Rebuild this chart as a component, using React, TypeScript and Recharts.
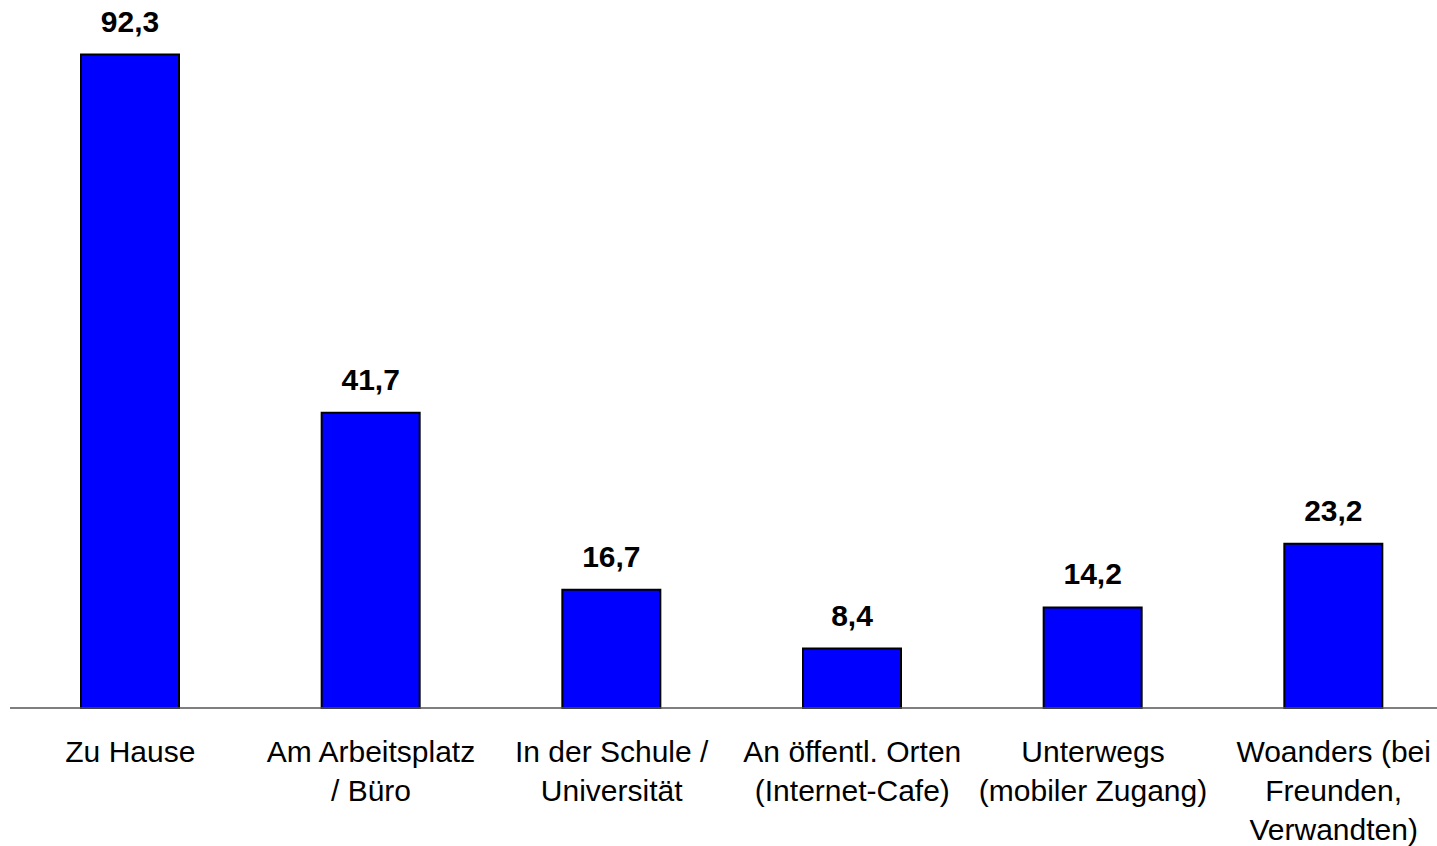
import { BarChart, Bar, XAxis, YAxis, LabelList } from 'recharts';

const categories = [
  'Zu Hause',
  'Am Arbeitsplatz / Büro',
  'In der Schule / Universität',
  'An öffentl. Orten (Internet-Cafe)',
  'Unterwegs (mobiler Zugang)',
  'Woanders (bei Freunden, Verwandten)',
];

const tickLines = [
  ['Zu Hause'],
  ['Am Arbeitsplatz', '/ Büro'],
  ['In der Schule /', 'Universität'],
  ['An öffentl. Orten', '(Internet-Cafe)'],
  ['Unterwegs', '(mobiler Zugang)'],
  ['Woanders (bei', 'Freunden,', 'Verwandten)'],
];

const values = [92.3, 41.7, 16.7, 8.4, 14.2, 23.2];

const data = categories.map((name, i) => ({ name, value: values[i] }));

const FONT = '"Liberation Sans", Arial, sans-serif';

function CategoryTick({ x, y, index }: any) {
  const lines = tickLines[index] || [];
  return (
    <text x={x} y={y + 54} textAnchor="middle" fill="#000" fontSize={30} fontFamily={FONT}>
      {lines.map((l, i) => (
        <tspan key={i} x={x} dy={i === 0 ? 0 : 39}>
          {l}
        </tspan>
      ))}
    </text>
  );
}

export default function App() {
  return (
    <div style={{ position: 'absolute', left: 0, top: 0, width: 1437, height: 846, overflow: 'hidden', background: '#fff' }}>
      <BarChart width={1454} height={846} data={data} margin={{ top: 0, right: 0, left: 10, bottom: 0 }}>
        <XAxis
          dataKey="name"
          height={138}
          interval={0}
          tickLine={false}
          tickSize={0}
          tickMargin={0}
          axisLine={{ stroke: '#555', strokeWidth: 1.5 }}
          tick={<CategoryTick />}
        />
        <YAxis hide domain={[0, 100]} />
        <Bar dataKey="value" fill="#0000FF" stroke="#000" strokeWidth={2} barSize={98} isAnimationActive={false}>
          <LabelList
            dataKey="value"
            position="top"
            offset={23}
            formatter={(v: any) => Number(v).toFixed(1).replace('.', ',')}
            style={{ fontFamily: FONT, fontSize: 30, fontWeight: 'bold', fill: '#000' }}
          />
        </Bar>
      </BarChart>
    </div>
  );
}
